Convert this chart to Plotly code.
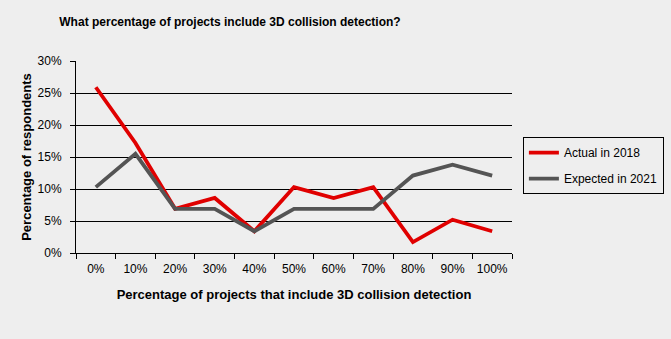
import plotly.graph_objects as go

# Survey categories: share of projects that include 3D collision detection
categories = ["0%", "10%", "20%", "30%", "40%", "50%", "60%", "70%", "80%", "90%", "100%"]

# Percentage of respondents per category
actual_2018 = [25.9, 17.2, 6.9, 8.6, 3.4, 10.3, 8.6, 10.3, 1.7, 5.2, 3.4]
expected_2021 = [10.3, 15.5, 6.9, 6.9, 3.4, 6.9, 6.9, 6.9, 12.1, 13.8, 12.1]

series_names = ["Actual in 2018", "Expected in 2021"]
series_colors = ["#E00000", "#545454"]

bg = "#EEEEEE"
font_family = "Liberation Sans, Arial, sans-serif"

fig = go.Figure()
for i, (name, vals, color) in enumerate(zip(series_names, [actual_2018, expected_2021], series_colors)):
    fig.add_trace(go.Scatter(
        x=categories, y=vals, name=name, mode="lines",
        legendgroup=f"g{i}",
        line=dict(color=color, width=3.8),
    ))

fig.update_layout(
    width=671, height=339,
    paper_bgcolor=bg, plot_bgcolor=bg,
    margin=dict(l=76, r=159, t=61, b=86, autoexpand=False),
    font=dict(family=font_family, size=12, color="#000000"),
    title=dict(
        text="<b>What percentage of projects include 3D collision detection?</b>",
        x=230 / 671, xanchor="center", xref="container",
        y=1 - 22 / 339, yanchor="middle", yref="container",
        font=dict(size=12, family=font_family),
    ),
    showlegend=True,
    legend=dict(
        x=1.025, xanchor="left", y=0.603, yanchor="top",
        bgcolor=bg, bordercolor="#000000", borderwidth=1,
        font=dict(size=12), tracegroupgap=7, itemwidth=30,
    ),
    xaxis=dict(
        type="category", tickson="boundaries", range=[-0.5, 10.5],
        ticks="outside", ticklen=5, tickcolor="#000000",
        showline=True, linecolor="#000000", linewidth=1,
        showgrid=False, ticklabelstandoff=5, tickangle=0,
        tickfont=dict(size=12),
        title=dict(text="<b>Percentage of projects that include 3D collision detection</b>",
                   font=dict(size=13), standoff=14),
    ),
    yaxis=dict(
        range=[0, 30], dtick=5, ticksuffix="%",
        ticks="outside", ticklen=5, tickcolor="#000000",
        showline=True, linecolor="#000000", linewidth=1,
        showgrid=True, gridcolor="#000000", gridwidth=1,
        zeroline=False, ticklabelstandoff=6,
        tickfont=dict(size=12),
        title=dict(text="<b>Percentage of respondents</b>",
                   font=dict(size=13), standoff=3),
    ),
)

fig.write_html("out.html")
